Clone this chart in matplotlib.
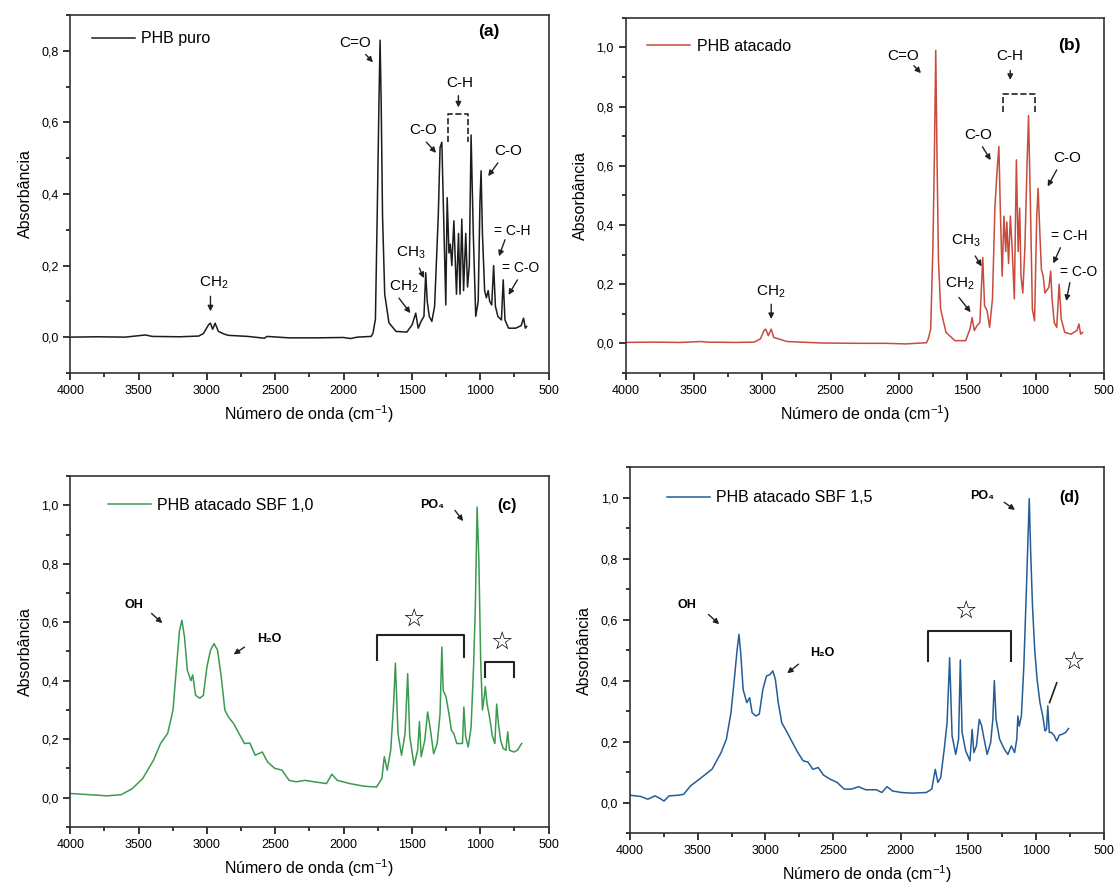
import matplotlib
matplotlib.use('Agg')
import matplotlib.pyplot as plt
from matplotlib.ticker import MultipleLocator, FuncFormatter

plt.rcParams['font.family'] = ['Liberation Sans', 'DejaVu Sans']
plt.rcParams['mathtext.fontset'] = 'custom'
plt.rcParams['mathtext.rm'] = 'Liberation Sans'
plt.rcParams['mathtext.it'] = 'Liberation Sans:italic'
plt.rcParams['mathtext.bf'] = 'Liberation Sans:bold'

# ---- data (wavenumber cm-1, absorbance) ----
wn_a = [4000, 3800, 3600, 3450, 3400, 3200, 3060, 3026, 2987, 2974, 2958, 2940, 2916, 2870, 2843,
        2700, 2580, 2560, 2400, 2200, 2000, 1950, 1900, 1798, 1785, 1767, 1754, 1741, 1733, 1725,
        1715, 1699, 1668, 1616, 1537, 1498, 1472, 1454, 1433, 1412, 1399, 1388, 1373, 1354, 1334,
        1307, 1294, 1281, 1268, 1252, 1242, 1229, 1219, 1208, 1193, 1174, 1159, 1148, 1135, 1122,
        1106, 1093, 1080, 1067, 1051, 1033, 1015, 1002, 994, 984, 968, 955, 942, 931, 916,
        902, 889, 871, 845, 832, 819, 793, 741, 701, 683, 670, 660]
abs_a = [0.0, 0.001, 0.0, 0.006, 0.002, 0.001, 0.003, 0.01, 0.035, 0.039, 0.022, 0.039, 0.016, 0.008, 0.005,
         0.002, -0.003, 0.002, -0.002, -0.002, -0.001, -0.004, 0.0, 0.002, 0.011, 0.05, 0.34, 0.66, 0.83, 0.66,
         0.34, 0.12, 0.04, 0.016, 0.014, 0.035, 0.067, 0.025, 0.044, 0.058, 0.18, 0.10, 0.058, 0.044, 0.086,
         0.34, 0.53, 0.545, 0.34, 0.09, 0.39, 0.235, 0.26, 0.20, 0.325, 0.12, 0.29, 0.12, 0.33, 0.13,
         0.29, 0.14, 0.20, 0.565, 0.29, 0.058, 0.10, 0.38, 0.465, 0.29, 0.13, 0.11, 0.13, 0.10, 0.09,
         0.20, 0.086, 0.058, 0.048, 0.16, 0.048, 0.025, 0.025, 0.032, 0.053, 0.025, 0.03]

wn_b = [4000, 3800, 3600, 3450, 3400, 3200, 3060, 3013, 2987, 2974, 2955, 2934, 2916, 2817, 2556,
        2300, 2100, 1950, 1798, 1785, 1767, 1751, 1741, 1730, 1720, 1710, 1694, 1655, 1590, 1511,
        1480, 1464, 1448, 1428, 1407, 1386, 1373, 1354, 1336, 1315, 1297, 1281, 1268, 1258, 1244,
        1231, 1218, 1210, 1197, 1184, 1171, 1155, 1140, 1127, 1116, 1106, 1093, 1078, 1061, 1051,
        1038, 1023, 1007, 991, 981, 968, 957, 944, 931, 916, 902, 889, 879, 863, 845,
        827, 812, 786, 741, 697, 682, 670, 655]
abs_b = [0.003, 0.004, 0.003, 0.006, 0.004, 0.003, 0.004, 0.015, 0.043, 0.048, 0.026, 0.048, 0.02, 0.006, 0.001,
         0.0, 0.0, -0.002, 0.002, 0.015, 0.048, 0.32, 0.60, 0.99, 0.60, 0.28, 0.115, 0.037, 0.009, 0.009,
         0.048, 0.087, 0.043, 0.06, 0.07, 0.29, 0.127, 0.11, 0.054, 0.15, 0.46, 0.585, 0.665, 0.46, 0.227,
         0.43, 0.31, 0.41, 0.27, 0.43, 0.32, 0.15, 0.62, 0.31, 0.457, 0.227, 0.17, 0.32, 0.62, 0.77,
         0.485, 0.115, 0.076, 0.43, 0.524, 0.37, 0.25, 0.227, 0.17, 0.18, 0.19, 0.244, 0.15, 0.07, 0.054,
         0.20, 0.082, 0.037, 0.031, 0.043, 0.065, 0.031, 0.037]

wn_c = [4000, 3862, 3731, 3627, 3548, 3470, 3391, 3339, 3287, 3248, 3222, 3201, 3183, 3164, 3143,
        3117, 3104, 3083, 3052, 3026, 3000, 2974, 2948, 2922, 2895, 2869, 2843, 2804, 2765, 2725,
        2686, 2647, 2595, 2556, 2504, 2451, 2399, 2347, 2281, 2216, 2125, 2086, 2046, 1955, 1851,
        1759, 1720, 1702, 1681, 1655, 1634, 1621, 1602, 1576, 1550, 1531, 1516, 1484, 1458, 1445,
        1432, 1406, 1385, 1367, 1341, 1315, 1294, 1281, 1271, 1250, 1229, 1211, 1193, 1172, 1146,
        1130, 1120, 1107, 1088, 1067, 1049, 1036, 1023, 1010, 997, 984, 971, 963, 950, 932,
        911, 893, 880, 867, 851, 832, 812, 799, 786, 754, 728, 697]
abs_c = [0.014, 0.01, 0.006, 0.01, 0.03, 0.065, 0.128, 0.185, 0.22, 0.30, 0.45, 0.57, 0.607, 0.55, 0.435,
         0.40, 0.42, 0.35, 0.34, 0.35, 0.447, 0.504, 0.527, 0.504, 0.413, 0.30, 0.276, 0.253, 0.219, 0.185,
         0.187, 0.145, 0.156, 0.122, 0.10, 0.094, 0.059, 0.054, 0.059, 0.054, 0.048, 0.08, 0.059, 0.048, 0.039,
         0.036, 0.065, 0.14, 0.094, 0.162, 0.32, 0.46, 0.22, 0.145, 0.22, 0.424, 0.21, 0.11, 0.162, 0.26,
         0.14, 0.196, 0.293, 0.24, 0.15, 0.185, 0.287, 0.515, 0.367, 0.344, 0.287, 0.23, 0.219, 0.185, 0.185,
         0.185, 0.31, 0.21, 0.173, 0.24, 0.447, 0.652, 0.994, 0.81, 0.47, 0.30, 0.344, 0.38, 0.32, 0.276,
         0.21, 0.185, 0.32, 0.253, 0.196, 0.168, 0.162, 0.225, 0.162, 0.156, 0.162, 0.185]

wn_d = [4000, 3921, 3868, 3815, 3776, 3749, 3710, 3644, 3604, 3552, 3472, 3393, 3327, 3288, 3254,
        3227, 3209, 3195, 3182, 3164, 3137, 3116, 3098, 3071, 3045, 3019, 2992, 2966, 2945, 2926,
        2905, 2879, 2839, 2800, 2760, 2721, 2686, 2649, 2610, 2570, 2523, 2470, 2417, 2365, 2312,
        2259, 2180, 2140, 2101, 2061, 1995, 1916, 1811, 1771, 1745, 1726, 1705, 1679, 1658, 1639,
        1621, 1594, 1573, 1560, 1547, 1520, 1489, 1473, 1460, 1441, 1420, 1402, 1389, 1362, 1336,
        1320, 1309, 1296, 1270, 1235, 1209, 1183, 1159, 1143, 1135, 1125, 1109, 1091, 1072, 1059,
        1051, 1041, 1027, 1011, 993, 972, 951, 935, 924, 914, 903, 887, 866, 848, 829,
        808, 782, 761]
abs_d = [0.024, 0.02, 0.011, 0.022, 0.013, 0.005, 0.022, 0.024, 0.027, 0.055, 0.082, 0.11, 0.164, 0.208, 0.295,
         0.415, 0.50, 0.552, 0.49, 0.37, 0.328, 0.344, 0.295, 0.284, 0.29, 0.37, 0.415, 0.42, 0.432, 0.404,
         0.328, 0.262, 0.23, 0.197, 0.164, 0.137, 0.133, 0.109, 0.115, 0.09, 0.077, 0.066, 0.044, 0.044, 0.052,
         0.042, 0.042, 0.033, 0.052, 0.038, 0.033, 0.031, 0.033, 0.044, 0.109, 0.066, 0.082, 0.175, 0.262, 0.475,
         0.219, 0.158, 0.208, 0.468, 0.23, 0.169, 0.137, 0.24, 0.164, 0.186, 0.273, 0.251, 0.219, 0.158, 0.197,
         0.273, 0.40, 0.273, 0.208, 0.175, 0.158, 0.186, 0.164, 0.208, 0.284, 0.251, 0.284, 0.448, 0.70, 0.885,
         0.997, 0.83, 0.645, 0.503, 0.404, 0.328, 0.284, 0.235, 0.24, 0.317, 0.23, 0.23, 0.219, 0.202, 0.221,
         0.224, 0.23, 0.243]

labels = ['PHB puro', 'PHB atacado', 'PHB atacado SBF 1,0', 'PHB atacado SBF 1,5']
colors = ['#1c1c1c', '#c84b3c', '#3c9a50', '#265c96']
tags = ['(a)', '(b)', '(c)', '(d)']

fig = plt.figure(figsize=(11.15, 8.9), dpi=100)
axes = [fig.add_axes([0.063, 0.581, 0.429, 0.402]),
        fig.add_axes([0.561, 0.581, 0.429, 0.399]),
        fig.add_axes([0.063, 0.071, 0.429, 0.394]),
        fig.add_axes([0.565, 0.064, 0.425, 0.411])]
series = [(wn_a, abs_a), (wn_b, abs_b), (wn_c, abs_c), (wn_d, abs_d)]
ytops = [0.9, 1.1, 1.1, 1.1]
comma = FuncFormatter(lambda v, p: f'{v:.1f}'.replace('.', ','))
leg_pos = [(0.045, 0.934), (0.045, 0.919), (0.078, 0.917), (0.078, 0.917)]

for i, ax in enumerate(axes):
    wn, ab = series[i]
    ax.plot(wn, ab, color=colors[i], lw=1.1, label=labels[i])
    ax.set_xlim(4000, 500)
    ax.set_ylim(-0.1, ytops[i])
    ax.xaxis.set_major_locator(MultipleLocator(500))
    ax.xaxis.set_minor_locator(MultipleLocator(250))
    ax.yaxis.set_major_locator(MultipleLocator(0.2))
    ax.yaxis.set_minor_locator(MultipleLocator(0.1))
    ax.yaxis.set_major_formatter(comma)
    ax.tick_params(which='both', direction='out', top=False, right=False, labelsize=9, width=1.1)
    ax.tick_params(which='major', length=5)
    ax.tick_params(which='minor', length=3)
    for s in ax.spines.values():
        s.set_linewidth(1.2)
        s.set_color('#333333')
    ax.set_xlabel('Número de onda (cm$^{-1}$)', fontsize=11.5, labelpad=5)
    ax.set_ylabel('Absorbância', fontsize=11.5, labelpad=6)
    ax.legend(loc='center left', bbox_to_anchor=leg_pos[i], frameon=False, fontsize=11.5,
              handlelength=2.7, handletextpad=0.4, borderpad=0, borderaxespad=0)

arr = dict(arrowstyle='-|>', color='#222222', lw=1.0, mutation_scale=8, shrinkA=0, shrinkB=0)


def note(ax, xy, xytext):
    ax.annotate('', xy=xy, xytext=xytext, arrowprops=arr)


def star(ax, x, y):
    ax.text(x, y, '☆', fontsize=18, family=['DejaVu Sans'], ha='center', va='center')


# ---- panel (a) annotations ----
ax = axes[0]
ax.text(937, 0.855, '(a)', fontsize=12.5, fontweight='bold', ha='center', va='center')
ax.text(1916, 0.822, 'C=O', fontsize=11, ha='center', va='center')
note(ax, (1785, 0.768), (1838, 0.79))
ax.text(1150, 0.71, 'C-H', fontsize=11, ha='center', va='center')
note(ax, (1160, 0.642), (1160, 0.675))
ax.plot([1237, 1237, 1093, 1093], [0.545, 0.625, 0.625, 0.545], ls='--', color='#222222', lw=1.2)
ax.text(1420, 0.58, 'C-O', fontsize=11, ha='center', va='center')
note(ax, (1323, 0.515), (1394, 0.545))
ax.text(793, 0.52, 'C-O', fontsize=11, ha='center', va='center')
note(ax, (942, 0.45), (871, 0.487))
ax.text(767, 0.296, '= C-H', fontsize=10, ha='center', va='center')
note(ax, (863, 0.226), (819, 0.272))
ax.text(701, 0.193, '= C-O', fontsize=10, ha='center', va='center')
note(ax, (793, 0.118), (728, 0.16))
ax.text(1511, 0.235, 'CH$_3$', fontsize=11, ha='center', va='center')
note(ax, (1412, 0.165), (1446, 0.193))
ax.text(1563, 0.142, 'CH$_2$', fontsize=11, ha='center', va='center')
note(ax, (1511, 0.067), (1595, 0.109))
ax.text(2953, 0.151, 'CH$_2$', fontsize=11, ha='center', va='center')
note(ax, (2974, 0.072), (2974, 0.114))

# ---- panel (b) annotations ----
ax = axes[1]
ax.text(754, 1.005, '(b)', fontsize=12.5, fontweight='bold', ha='center', va='center')
ax.text(1968, 0.972, 'C=O', fontsize=11, ha='center', va='center')
note(ax, (1838, 0.913), (1890, 0.938))
ax.text(1185, 0.972, 'C-H', fontsize=11, ha='center', va='center')
note(ax, (1185, 0.89), (1185, 0.922))
ax.plot([1237, 1237, 1002, 1002], [0.782, 0.841, 0.841, 0.782], ls='--', color='#222222', lw=1.2)
ax.text(1420, 0.703, 'C-O', fontsize=11, ha='center', va='center')
note(ax, (1328, 0.619), (1388, 0.664))
ax.text(767, 0.625, 'C-O', fontsize=11, ha='center', va='center')
note(ax, (911, 0.53), (845, 0.586))
ax.text(754, 0.362, '= C-H', fontsize=10, ha='center', va='center')
note(ax, (870, 0.27), (818, 0.323))
ax.text(688, 0.24, '= C-O', fontsize=10, ha='center', va='center')
note(ax, (775, 0.143), (749, 0.205))
ax.text(1511, 0.345, 'CH$_3$', fontsize=11, ha='center', va='center')
note(ax, (1394, 0.26), (1441, 0.295))
ax.text(1555, 0.2, 'CH$_2$', fontsize=11, ha='center', va='center')
note(ax, (1475, 0.105), (1560, 0.155))
ax.text(2934, 0.174, 'CH$_2$', fontsize=11, ha='center', va='center')
note(ax, (2934, 0.082), (2934, 0.132))

# ---- panel (c) annotations ----
ax = axes[2]
ax.text(806, 1.0, '(c)', fontsize=11.5, fontweight='bold', ha='center', va='center')
ax.text(3535, 0.66, 'OH', fontsize=9, fontweight='bold', ha='center', va='center')
note(ax, (3326, 0.597), (3405, 0.63))
ax.text(2543, 0.544, 'H₂O', fontsize=9, fontweight='bold', ha='center', va='center')
note(ax, (2804, 0.49), (2725, 0.515))
ax.text(1354, 1.0, 'PO₄', fontsize=9, fontweight='bold', ha='center', va='center')
note(ax, (1125, 0.946), (1185, 0.983))
ax.plot([1759, 1759, 1120, 1120], [0.47, 0.555, 0.555, 0.48], color='#222222', lw=1.5)
star(ax, 1485, 0.61)
ax.plot([963, 963, 754, 754], [0.413, 0.464, 0.464, 0.413], color='#222222', lw=1.5)
star(ax, 845, 0.53)

# ---- panel (d) annotations ----
ax = axes[3]
ax.text(756, 1.0, '(d)', fontsize=11.5, fontweight='bold', ha='center', va='center')
ax.text(3578, 0.647, 'OH', fontsize=9, fontweight='bold', ha='center', va='center')
note(ax, (3341, 0.585), (3420, 0.617))
ax.text(2576, 0.49, 'H₂O', fontsize=9, fontweight='bold', ha='center', va='center')
note(ax, (2839, 0.424), (2755, 0.454))
ax.text(1402, 1.005, 'PO₄', fontsize=9, fontweight='bold', ha='center', va='center')
note(ax, (1156, 0.96), (1236, 0.985))
ax.plot([1797, 1797, 1183, 1183], [0.464, 0.563, 0.563, 0.464], color='#222222', lw=1.5)
star(ax, 1520, 0.626)
ax.plot([848, 901], [0.393, 0.328], color='#222222', lw=1.2)
star(ax, 724, 0.46)

fig.savefig('out.png', dpi=100, facecolor='white')
